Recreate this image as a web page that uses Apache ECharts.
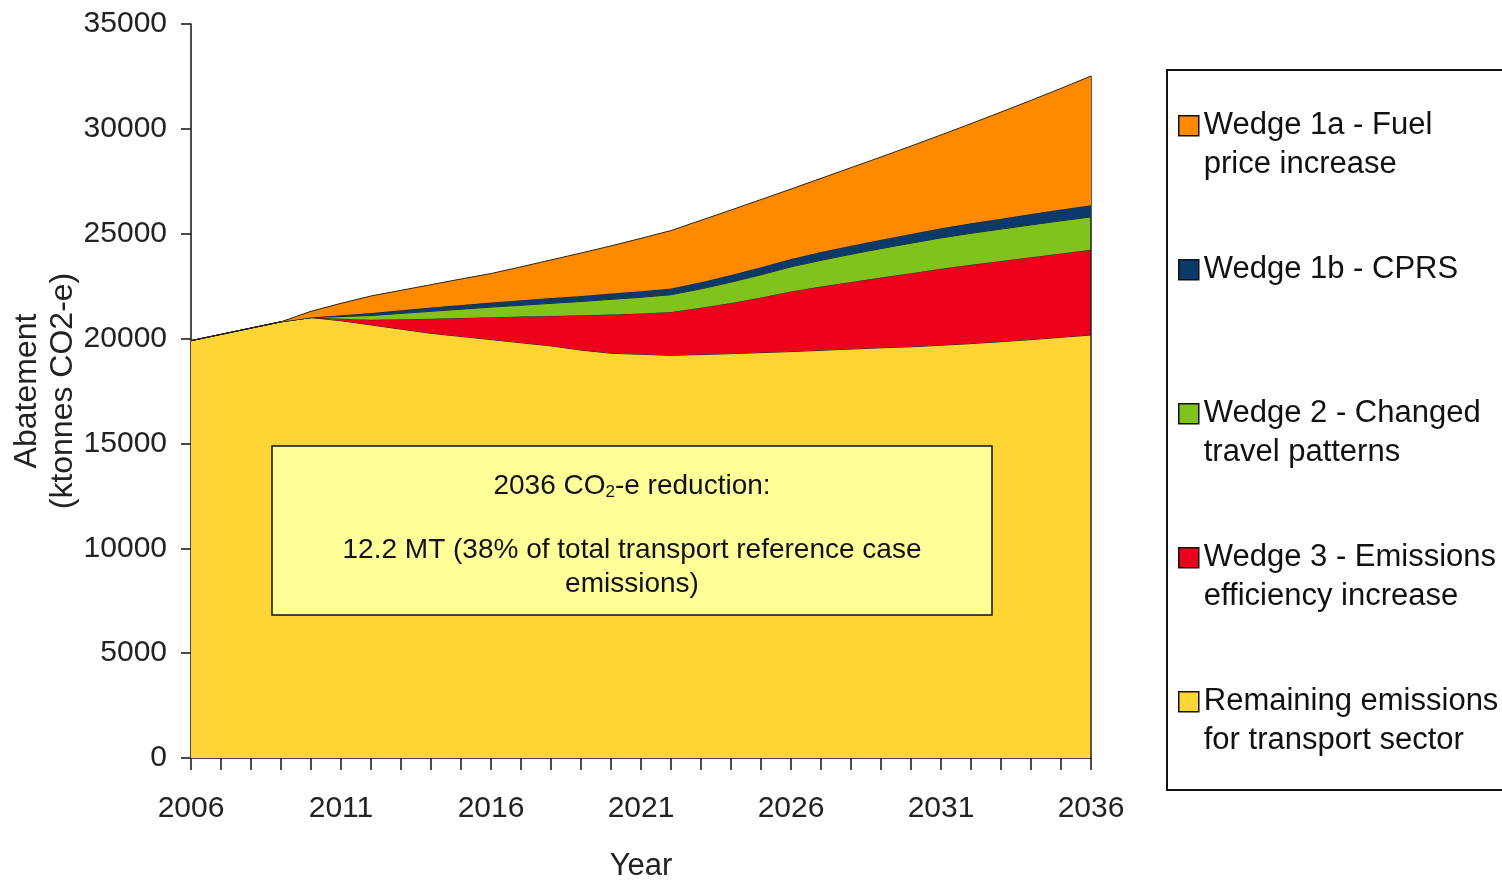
<!DOCTYPE html>
<html>
<head>
    <title>Transport abatement wedges</title>
    <script src="https://cdn.jsdelivr.net/npm/echarts@6/dist/echarts.min.js"></script>
    <style>
        body { margin: 0; background: #fff; overflow: hidden; }
        #chart { width: 1502px; height: 880px; }
    </style>
</head>
<body>
    <div id="chart"></div>
    <script>
        // years on the x axis (labels shown every 5th)
        const years = ['2006','2007','2008','2009','2010','2011','2012','2013','2014','2015',
                       '2016','2017','2018','2019','2020','2021','2022','2023','2024','2025',
                       '2026','2027','2028','2029','2030','2031','2032','2033','2034','2035','2036'];

        // stacked from the bottom up, ktonnes CO2-e
        const remaining = [19900,20200,20500,20800,21000,20850,20650,20450,20250,20100,
                           19950,19800,19650,19450,19300,19250,19200,19240,19280,19330,
                           19380,19440,19500,19560,19610,19680,19760,19850,19950,20060,20170];
        const wedge3 = [0,0,0,0,0,100,250,470,700,880,
                        1070,1250,1430,1660,1850,1950,2070,2230,2420,2630,
                        2870,3040,3200,3350,3510,3650,3760,3850,3930,4000,4060];
        const wedge2 = [0,0,0,0,0,100,200,280,350,420,
                        480,540,600,660,720,770,820,900,990,1080,
                        1170,1250,1320,1380,1430,1470,1500,1520,1540,1555,1570];
        const wedge1b = [0,0,0,0,0,60,120,150,180,200,
                         220,235,250,265,280,290,300,320,340,360,
                         380,395,410,425,440,455,475,495,515,540,560];
        const wedge1a = [0,0,0,0,300,570,810,950,1090,1240,
                         1380,1595,1820,2045,2270,2520,2760,2950,3100,3230,
                         3330,3515,3720,3945,4190,4455,4755,5085,5425,5775,6160];

        const FONT = "'Liberation Sans', Arial, Helvetica, sans-serif";
        const LH = 39;

        const series = [
            { name: 'Remaining emissions\nfor transport sector', data: remaining, color: '#FDD535', top: 636 },
            { name: 'Wedge 3 - Emissions\nefficiency increase', data: wedge3, color: '#EC001C', top: 492 },
            { name: 'Wedge 2 - Changed\ntravel patterns', data: wedge2, color: '#7FC31C', top: 348 },
            { name: 'Wedge 1b - CPRS', data: wedge1b, color: '#0B3A6A', top: 243 },
            { name: 'Wedge 1a - Fuel\nprice increase', data: wedge1a, color: '#FF8A00', top: 60 }
        ];

        const lastIdx = years.length - 1;
        const total2036 = series.reduce((s, d) => s + d.data[lastIdx], 0);

        const chart = echarts.init(document.getElementById('chart'));

        chart.setOption({
            animation: false,
            backgroundColor: '#fff',
            grid: { left: 191, right: 411, top: 24, bottom: 122, containLabel: false, outerBoundsMode: 'none' },
            xAxis: {
                type: 'category',
                data: years,
                boundaryGap: false,
                name: 'Year',
                nameLocation: 'middle',
                nameGap: 82,
                nameMoveOverlap: false,
                nameTextStyle: { fontFamily: FONT, fontSize: 31, color: '#222' },
                axisLine: { lineStyle: { color: '#111', width: 1.5 } },
                axisTick: { interval: 0, length: 12, lineStyle: { color: '#111', width: 1.5 } },
                axisLabel: { interval: 4, margin: 25, fontFamily: FONT, fontSize: 30, color: '#222' },
                splitLine: { show: false }
            },
            yAxis: {
                type: 'value',
                min: 0,
                max: 35000,
                interval: 5000,
                name: 'Abatement\n(ktonnes CO2-e)',
                nameLocation: 'middle',
                nameRotate: 90,
                nameGap: 110,
                nameMoveOverlap: false,
                nameTextStyle: { fontFamily: FONT, fontSize: 32, lineHeight: 36, color: '#222' },
                axisLine: { show: true, lineStyle: { color: '#111', width: 1.5 } },
                axisTick: { show: true, length: 10, lineStyle: { color: '#111', width: 1.5 } },
                axisLabel: { margin: 24, fontFamily: FONT, fontSize: 30, color: '#222', formatter: v => String(v) },
                splitLine: { show: false }
            },
            legend: series.map(s => ({
                data: [s.name],
                left: 1178,
                top: s.top,
                padding: 0,
                orient: 'vertical',
                selectedMode: false,
                icon: 'rect',
                itemWidth: 20,
                itemHeight: 20,
                itemStyle: { color: s.color, borderColor: '#111', borderWidth: 1.5 },
                // a blank first line keeps the swatch level with the first text line
                formatter: name => name.indexOf('\n') >= 0 ? '\n' + name : name,
                textStyle: { fontFamily: FONT, fontSize: 31, lineHeight: LH, color: '#111' }
            })),
            series: series.map((s, i) => ({
                name: s.name,
                type: 'line',
                stack: 'total',
                data: s.data,
                symbol: 'none',
                color: s.color,
                lineStyle: { color: '#222', width: 1 },
                areaStyle: { color: s.color, opacity: 1 },
                z: 2 + i,
                markLine: i === series.length - 1 ? {
                    silent: true,
                    symbol: 'none',
                    label: { show: false },
                    lineStyle: { color: '#222', width: 1.5, type: 'solid' },
                    data: [[{ coord: [years[lastIdx], 0] }, { coord: [years[lastIdx], total2036] }]]
                } : undefined
            })),
            graphic: [
                {
                    type: 'rect',
                    z: 10,
                    shape: { x: 1167, y: 70, width: 345, height: 720 },
                    style: { fill: 'none', stroke: '#111', lineWidth: 2 }
                },
                {
                    type: 'rect',
                    z: 20,
                    shape: { x: 272, y: 446, width: 720, height: 169 },
                    style: { fill: '#FFFF99', stroke: '#111', lineWidth: 1.5 }
                },
                {
                    type: 'text',
                    z: 21,
                    x: 632, y: 486,
                    style: {
                        text: '2036 CO{sub|2}-e reduction:',
                        align: 'center', verticalAlign: 'middle',
                        fontFamily: FONT, fontSize: 28, fill: '#111',
                        rich: {
                            sub: { fontFamily: FONT, fontSize: 17, fill: '#111', padding: [12, 0, 0, 0] }
                        }
                    }
                },
                {
                    type: 'text',
                    z: 21,
                    x: 632, y: 567,
                    style: {
                        text: '12.2 MT (38% of total transport reference case\nemissions)',
                        align: 'center', verticalAlign: 'middle',
                        fontFamily: FONT, fontSize: 28, lineHeight: 34, fill: '#111'
                    }
                }
            ]
        });
    </script>
</body>
</html>
